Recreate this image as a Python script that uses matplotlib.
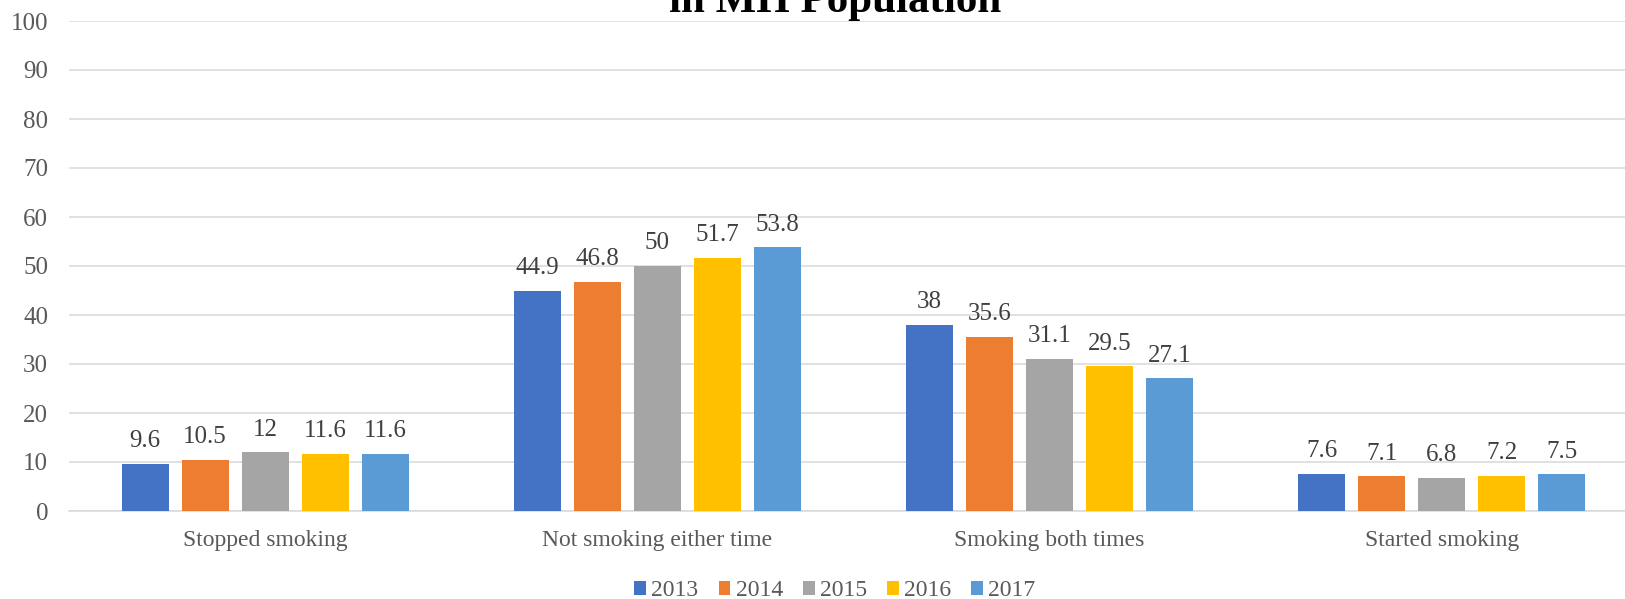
import matplotlib
matplotlib.use("Agg")
import matplotlib.pyplot as plt
from matplotlib.patches import Patch
import numpy as np

# chart data
categories = ["Stopped smoking", "Not smoking either time", "Smoking both times", "Started smoking"]
years = ["2013", "2014", "2015", "2016", "2017"]
values = {
    "2013": [9.6, 44.9, 38, 7.6],
    "2014": [10.5, 46.8, 35.6, 7.1],
    "2015": [12, 50, 31.1, 6.8],
    "2016": [11.6, 51.7, 29.5, 7.2],
    "2017": [11.6, 53.8, 27.1, 7.5],
}
colors = ["#4472C4", "#ED7D31", "#A5A5A5", "#FFC000", "#5B9BD5"]

W, H = 1625, 599
FS = 18
plt.rcParams["font.family"] = ["Liberation Serif", "DejaVu Serif"]

fig = plt.figure(figsize=(W / 100, H / 100), dpi=100)
left, right, top, bottom = 69, 1638, 21, 511
ax = fig.add_axes([left / W, 1 - bottom / H, (right - left) / W, (bottom - top) / H])

x = np.arange(len(categories))
bar_w = 0.12
pitch = 0.153
for i, yr in enumerate(years):
    xs = x + (i - 2) * pitch
    bars = ax.bar(xs, values[yr], width=bar_w, color=colors[i], zorder=3)
    for b, v in zip(bars, values[yr]):
        ax.annotate(f"{v:g}", (b.get_x() + b.get_width() / 2, v),
                    xytext=(0, 12), textcoords="offset points",
                    ha="center", va="baseline", fontsize=FS, color="#404040")

ax.set_xlim(-0.5, len(categories) - 0.5)
ax.set_ylim(0, 100)
ax.set_yticks(range(0, 101, 10))
ax.grid(axis="y", color="#d9d9d9", linewidth=1.1, zorder=0)
for s in ["top", "right", "left"]:
    ax.spines[s].set_visible(False)
ax.spines["bottom"].set_color("#d9d9d9")
ax.spines["bottom"].set_linewidth(1.1)
ax.tick_params(axis="y", length=0, labelsize=FS, labelcolor="#595959", pad=15)
ax.tick_params(axis="x", length=0, labelsize=17, labelcolor="#595959", pad=14)
ax.set_xticks(x)
ax.set_xticklabels(categories)

# title (only its last line shows, cut at the top edge)
fig.text(835 / W, 1 - 12 / H, "in MH Population", ha="center", va="baseline",
         fontsize=31, fontweight="bold", color="black")

handles = [Patch(facecolor=c, label=y) for c, y in zip(colors, years)]
fig.legend(handles=handles, loc="center", bbox_to_anchor=(835 / W, 1 - 591 / H),
           ncol=5, frameon=False, fontsize=17, labelcolor="#595959",
           handlelength=0.5, handleheight=0.5, handletextpad=0.22,
           columnspacing=0.85, borderpad=0, borderaxespad=0)

fig.savefig("out.png", dpi=100)
